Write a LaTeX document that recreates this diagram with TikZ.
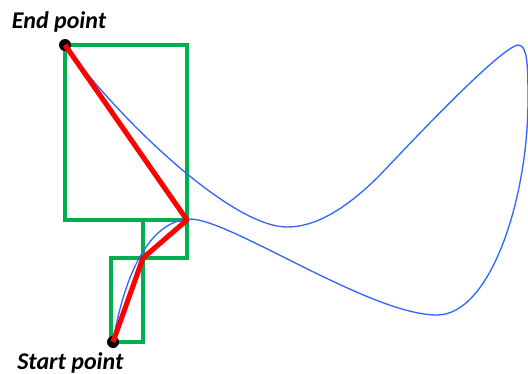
\documentclass[tikz,border=0pt]{standalone}
\usepackage{fontspec}
\setmainfont{Carlito}
\usetikzlibrary{positioning}

\definecolor{boxgreen}{RGB}{0,176,80}
\definecolor{curveblue}{RGB}{51,102,255}

\begin{document}
\begin{tikzpicture}[
    x=0.75pt, y=-0.75pt,
    cell/.style={draw=boxgreen, line width=2.3pt},
    chord/.style={draw=red, line width=3.8pt, line join=round},
    curve/.style={draw=curveblue, line width=1pt},
    dot/.style={circle, fill=black, inner sep=0pt, minimum size=9pt},
    lbl/.style={font=\fontsize{18}{21}\selectfont\bfseries\itshape}
]
\useasboundingbox (0,0) rectangle (528,374);

%% ---- Green boxes ----
\draw[cell] (65,45) rectangle (187,220);
\draw[cell] (143,220) rectangle (187,258);
\draw[cell] (111,258) rectangle (143,342);

%% ---- Dots and red polyline ----
\node[dot] at (65,45)   (endpt)   {};
\node[dot] at (113,342) (startpt) {};
\coordinate (p1) at (187,220);
\coordinate (p2) at (143,258);

%% ---- Blue curve (start -> end) ----
\draw[curve] (startpt.center)
    .. controls (120,300) and (140,221) .. (190,219)
    .. controls (230,219) and (370,315) .. (437,315)
    .. controls (490,315) and (528,200) .. (528,100)
    .. controls (528,62) and (527,45) .. (518,45)
    .. controls (500,48) and (415,138) .. (380,175)
    .. controls (345,210) and (315,227) .. (287,227)
    .. controls (230,227) and (115,115) .. (endpt.center);

\draw[chord] (endpt.center) -- (p1) -- (p2) -- (startpt.center);

%% ---- Labels ----
\node[lbl, above=1.5pt of endpt, xshift=-4.5pt] (endlbl) {End point};
\node[lbl, below=-0.5pt of startpt, xshift=-32pt] (startlbl) {Start point};

\end{tikzpicture}
\end{document}
